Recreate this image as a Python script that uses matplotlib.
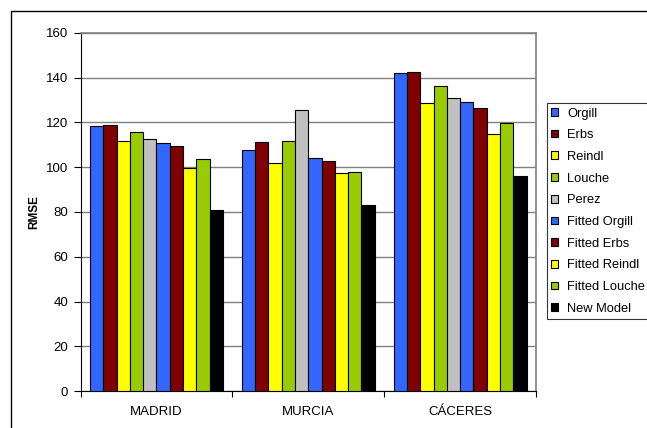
import numpy as np
import matplotlib.pyplot as plt
from matplotlib.patches import Rectangle

plt.rcParams['font.family'] = ['Liberation Sans', 'DejaVu Sans']

# RMSE per site and model
sites = ["MADRID", "MURCIA", "CÁCERES"]
models = ["Orgill", "Erbs", "Reindl", "Louche", "Perez",
          "Fitted Orgill", "Fitted Erbs", "Fitted Reindl", "Fitted Louche", "New Model"]
madrid = [118.5, 119.0, 111.8, 115.7, 112.7, 110.9, 109.3, 99.8, 103.8, 81.0]
murcia = [107.7, 111.2, 102.0, 111.7, 125.5, 104.2, 102.6, 97.5, 98.1, 83.0]
caceres = [142.0, 142.5, 128.8, 136.4, 130.9, 129.2, 126.4, 115.0, 119.9, 95.9]

colors = ["#3366FF", "#800000", "#FFFF00", "#99CC00", "#C0C0C0",
          "#3366FF", "#800000", "#FFFF00", "#99CC00", "#000000"]

rmse = np.array([madrid, murcia, caceres])  # sites x models

W, H = 647, 428
fig = plt.figure(figsize=(W / 100, H / 100), dpi=100)

# outer chart frame (only left and top edges are visible in the crop)
fig.patches.append(Rectangle((10.5 / W, -0.5), 2.0, 1 - 10.5 / H + 0.5,
                             transform=fig.transFigure, fill=False,
                             edgecolor="black", linewidth=1.0))

ax = fig.add_axes([80.5 / W, 1 - 391 / H, (536 - 80.5) / W, (391 - 33) / H])

n = len(models)
bw = 0.0875
x0 = np.arange(len(sites))
for i in range(n):
    xs = x0 + 0.5 + (i - (n - 1) / 2) * bw
    ax.bar(xs, rmse[:, i], width=bw, color=colors[i], edgecolor="black",
           linewidth=0.8, label=models[i], zorder=3)

ax.set_xlim(0, len(sites))
ax.set_ylim(0, 160)
ax.set_yticks(np.arange(0, 161, 20))
ax.yaxis.grid(True, color="#808080", linewidth=1.0, zorder=0)
ax.set_axisbelow(True)

ax.set_xticks(np.arange(0, len(sites) + 1))
ax.set_xticklabels([])
ax.set_xticks(x0 + 0.5, minor=True)
ax.set_xticklabels(sites, minor=True, fontsize=9.5)
ax.tick_params(axis="x", which="minor", length=0, pad=11)
ax.tick_params(axis="x", which="major", length=4, width=0.8, direction="out")
ax.tick_params(axis="y", length=5, width=0.8, direction="out", labelsize=9.5, pad=4)

for s in ["top", "right"]:
    ax.spines[s].set_color("#808080")
    ax.spines[s].set_linewidth(1.2)
for s in ["left", "bottom"]:
    ax.spines[s].set_color("black")
    ax.spines[s].set_linewidth(0.8)

ax.set_ylabel("RMSE", fontsize=8.5, fontweight="bold", labelpad=4)

leg = fig.legend(loc="upper left", bbox_to_anchor=(546.5 / W, 1 - 103 / H),
                 bbox_transform=fig.transFigure, borderaxespad=0,
                 fontsize=9.3, frameon=True, fancybox=False,
                 handlelength=0.54, handleheight=0.54, handletextpad=0.72,
                 labelspacing=0.75, borderpad=0.35)
leg.get_frame().set_edgecolor("black")
leg.get_frame().set_linewidth(0.8)

fig.savefig("out.png", dpi=100)
